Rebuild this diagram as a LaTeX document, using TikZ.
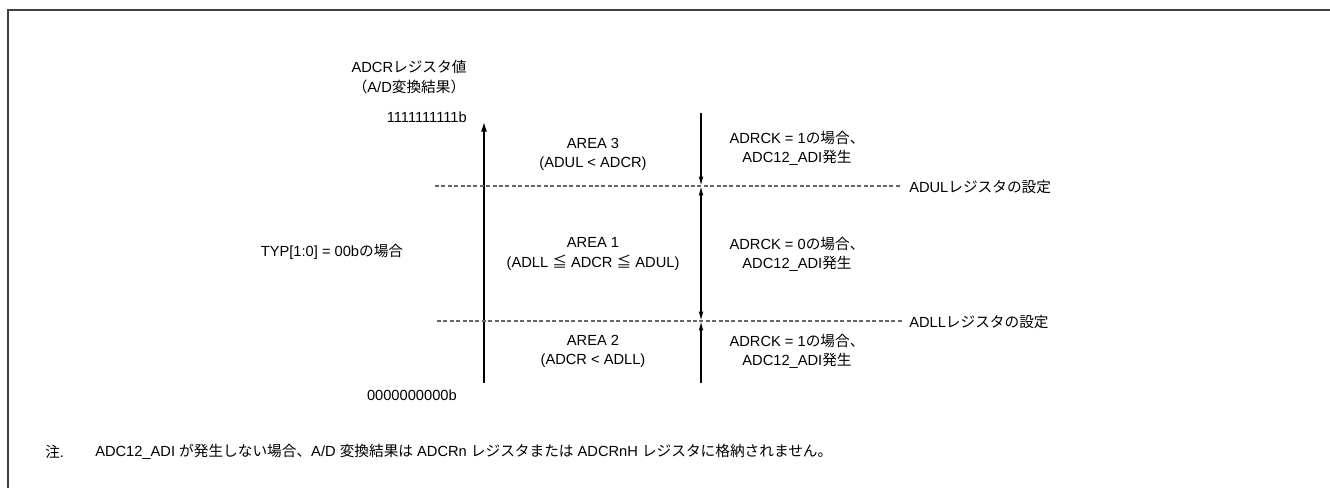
\documentclass[tikz,border=0pt]{standalone}
\usepackage{fontspec}
\setmainfont{Liberation Sans}
\newfontfamily\jp{Noto Sans CJK JP}
\usetikzlibrary{arrows.meta}
\tikzset{
  lbl/.style={inner sep=0pt, align=center, font=\fontsize{11}{14.4}\selectfont},
  framel/.style={draw=black!75, line width=1.5pt},
  level/.style={draw=black!60, line width=0.8pt, dash pattern=on 3pt off 1.8pt},
  axis/.style={draw=black, line width=1.5pt, -{Latex[length=8pt,width=4.5pt]}},
  evt/.style={draw=black, line width=1pt, -{Latex[length=7pt,width=3.5pt]}},
  evtb/.style={draw=black, line width=1pt, {Latex[length=7pt,width=3.5pt]}-{Latex[length=7pt,width=3.5pt]}}
}
\begin{document}
\begin{tikzpicture}[x=0.75pt,y=-0.75pt]
\useasboundingbox (0,0) rectangle (1330,488);
% frame (only top and left visible)
\coordinate (fr1) at (1330,10);
\coordinate (fr2) at (7.5,10);
\coordinate (fr3) at (7.5,488);
\draw[framel] (fr1) -- (fr2) -- (fr3);

% axis
\node[lbl, font=\fontsize{11}{15}\selectfont] (title) at (409,77) {ADCR{\jp レジスタ値}\\{\jp （}A/D{\jp 変換結果）}};
\node[lbl, anchor=east] (vmax) at (467,117) {1111111111b};
\node[lbl, anchor=east] (vmin) at (457,395) {0000000000b};
\coordinate (axb) at (484,383);
\coordinate (axt) at (484,121);
\draw[axis] (axb) -- (axt);

% level lines
\coordinate (ul1) at (435,186);
\coordinate (ul2) at (902,186);
\coordinate (ll1) at (437,321);
\coordinate (ll2) at (902,321);
\draw[level] (ul1) -- (ul2);
\draw[level] (ll1) -- (ll2);
\node[lbl, anchor=west] (ulab) at (909,187) {ADUL{\jp レジスタの設定}};
\node[lbl, anchor=west] (llab) at (909,322) {ADLL{\jp レジスタの設定}};

% event arrows
\coordinate (et) at (701,113);
\coordinate (eu) at (701,186);
\coordinate (el) at (701,321);
\coordinate (eb) at (701,383);
\draw[evt] (et) -- (eu);
\draw[evtb] (eu) -- (el);
\draw[evt] (eb) -- (el);

% area labels
\node[lbl] (a3) at (593,154) {AREA 3\\(ADUL {\textless} ADCR)};
\node[lbl] (a1) at (593,254) {AREA 1\\(ADLL {\jp ≦} ADCR {\jp ≦} ADUL)};
\node[lbl] (a2) at (593,351) {AREA 2\\(ADCR {\textless} ADLL)};

% condition labels
\node[lbl] (c3) at (797,148) {ADRCK = 1{\jp の場合、}\\ADC12\_ADI{\jp 発生}};
\node[lbl] (c1) at (797,254) {ADRCK = 0{\jp の場合、}\\ADC12\_ADI{\jp 発生}};
\node[lbl] (c2) at (797,351) {ADRCK = 1{\jp の場合、}\\ADC12\_ADI{\jp 発生}};

\node[lbl] (typ) at (332,252) {TYP[1:0] = 00b{\jp の場合}};

% note
\node[lbl, anchor=west] (nmark) at (45,452) {{\jp 注}.};
\node[lbl, anchor=west] (note) at (95,452) {ADC12\_ADI {\jp が発生しない場合、}A/D {\jp 変換結果は} ADCRn {\jp レジスタまたは} ADCRnH {\jp レジスタに格納されません。}};
\end{tikzpicture}
\end{document}
